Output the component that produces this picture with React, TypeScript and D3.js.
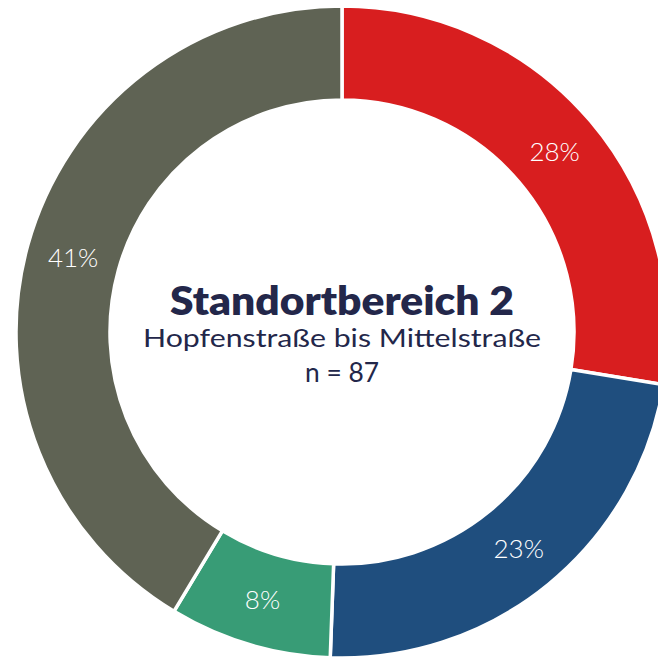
import React from "react";
import * as d3 from "d3";

const categories = ["A", "B", "C", "D"];
const counts = [24, 20, 7, 36];
const colors = ["#D81E1F", "#1F4E7E", "#389C76", "#5F6354"];
const titleText = "Standortbereich 2";
const subtitleText = "Hopfenstraße bis Mittelstraße";
const nText = "n = 87";

const W = 658;
const H = 659;
const cx = 342;
const cy = 332;
const rOuter = 326;
const rInner = 232;

export default function App() {
  const total = d3.sum(counts);
  const data = categories.map((c, i) => ({ c, v: counts[i], color: colors[i] }));
  const pie = d3
    .pie<any>()
    .sort(null)
    .value((d: any) => d.v)
    .startAngle(0)
    .endAngle(2 * Math.PI);
  const arcs = pie(data);
  const arc = d3.arc<any>().innerRadius(rInner).outerRadius(rOuter);
  const font = "Lato, 'Open Sans', sans-serif";
  return (
    <div style={{ position: "absolute", left: 0, top: 0 }}>
      <svg width={W} height={H} style={{ display: "block" }}>
        <rect width={W} height={H} fill="#ffffff" />
        <g transform={`translate(${cx},${cy})`}>
          {arcs.map((a, i) => (
            <path key={i} d={arc(a) as string} fill={a.data.color} stroke="#ffffff" strokeWidth={3.5} />
          ))}
          {arcs.map((a, i) => {
            const [x, y] = arc.centroid(a);
            return (
              <text
                key={"l" + i}
                x={x}
                y={y}
                textAnchor="middle"
                dominantBaseline="central"
                fill="#ffffff"
                fontFamily={font}
                fontWeight={300}
                fontSize={26}
              >
                {Math.round((a.data.v / total) * 100) + "%"}
              </text>
            );
          })}
          <text x={0} y={315 - cy} textAnchor="middle" fill="#23274A" fontFamily={font} fontWeight={800} fontSize={39} textLength={344} lengthAdjust="spacingAndGlyphs">
            {titleText}
          </text>
          <text x={0} y={347 - cy} textAnchor="middle" fill="#23274A" fontFamily={font} fontWeight={400} fontSize={25} textLength={398} lengthAdjust="spacingAndGlyphs">
            {subtitleText}
          </text>
          <text x={0} y={382 - cy} textAnchor="middle" fill="#23274A" fontFamily={font} fontWeight={400} fontSize={26} textLength={74} lengthAdjust="spacingAndGlyphs">
            {nText}
          </text>
        </g>
      </svg>
    </div>
  );
}
